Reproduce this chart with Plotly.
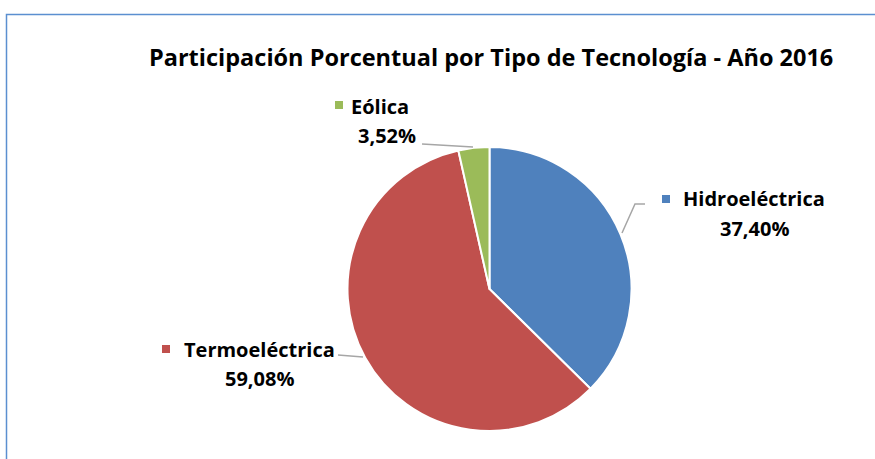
import plotly.graph_objects as go

categories = ["Hidroeléctrica", "Termoeléctrica", "Eólica"]
values = [37.40, 59.08, 3.52]
colors = ["#4F81BD", "#C0504D", "#9BBB59"]
title = "Participación Porcentual por Tipo de Tecnología - Año 2016"

W, H = 875, 459
def px(x):
    return x / W
def py(y):
    return 1 - y / H

cx, cy, r = 489.5, 289, 142

fig = go.Figure(go.Pie(
    labels=categories, values=values, sort=False, direction="clockwise", rotation=0,
    marker=dict(colors=colors, line=dict(color="white", width=2)),
    textinfo="none", hoverinfo="label+percent", showlegend=False,
    domain=dict(x=[px(cx - r), px(cx + r)], y=[py(cy + r), py(cy - r)]),
))

FONT = "Open Sans"
label_pos = {
    "Hidroeléctrica": dict(sq=(666, 199), name=(754, 198), val=(754, 228)),
    "Termoeléctrica": dict(sq=(166, 349), name=(259, 349), val=(259, 378)),
    "Eólica": dict(sq=(339, 105), name=(380, 106), val=(387, 135)),
}
annotations = []
shapes = []
for cat, v, c in zip(categories, values, colors):
    p = label_pos[cat]
    annotations.append(dict(x=px(p["name"][0]), y=py(p["name"][1]), xref="paper", yref="paper",
                            text="<b>" + cat + "</b>", showarrow=False,
                            font=dict(family=FONT, size=20, color="#000"), xanchor="center", yanchor="middle"))
    annotations.append(dict(x=px(p["val"][0]), y=py(p["val"][1]), xref="paper", yref="paper",
                            text="<b>" + f"{v:.2f}".replace(".", ",") + "%</b>", showarrow=False,
                            font=dict(family=FONT, size=20, color="#000"), xanchor="center", yanchor="middle"))
    s = 4
    shapes.append(dict(type="rect", xref="paper", yref="paper",
                       x0=px(p["sq"][0] - s), x1=px(p["sq"][0] + s),
                       y0=py(p["sq"][1] + s), y1=py(p["sq"][1] - s),
                       fillcolor=c, line=dict(width=0)))

lc = "#A6A6A6"
leader = [
    [(422, 144), (473, 147)],
    [(622, 233), (635, 204), (645, 204)],
    [(338, 355), (363, 357)],
]
for pts in leader:
    path = "M " + " L ".join(f"{px(x)},{py(y)}" for x, y in pts)
    shapes.append(dict(type="path", xref="paper", yref="paper", path=path,
                       line=dict(color=lc, width=1.5)))

shapes.append(dict(type="rect", xref="paper", yref="paper",
                   x0=px(6.5), x1=1.02, y0=-0.02, y1=py(14.5),
                   line=dict(color="#5B8FD0", width=1.5), fillcolor="rgba(0,0,0,0)"))

annotations.append(dict(x=px(491), y=py(57), xref="paper", yref="paper",
                        text="<b>" + title + "</b>", showarrow=False,
                        font=dict(family=FONT, size=23.5, color="#000"),
                        xanchor="center", yanchor="middle"))

fig.update_layout(
    width=W, height=H, margin=dict(l=0, r=0, t=0, b=0),
    paper_bgcolor="white", plot_bgcolor="white",
    annotations=annotations, shapes=shapes,
)
fig.write_html("out.html", config={"displayModeBar": False},
               post_script="document.body.style.margin='0';")
